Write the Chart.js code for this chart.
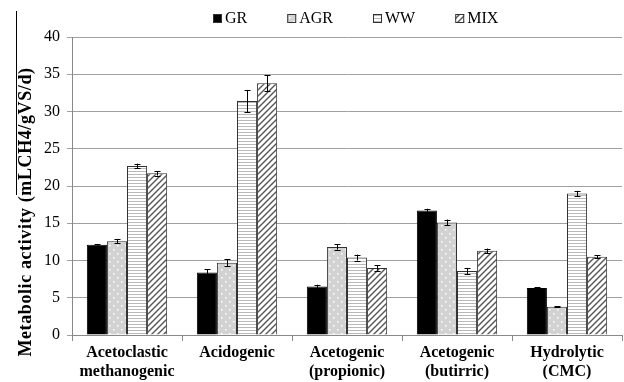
<!DOCTYPE html>
<html>
<head>
<meta charset="utf-8">
<script src="https://cdn.jsdelivr.net/npm/chart.js@4/dist/chart.umd.min.js"></script>
<style>
  body { margin: 0; background: #fff; }
  #wrap { position: relative; width: 624px; height: 382px; }
  #edge { position: absolute; left: 16px; top: 11px; width: 1px; height: 184px; background: #000; }
</style>
</head>
<body>
<div id="wrap">
  <canvas id="chart" width="624" height="382"></canvas>
  <div id="edge"></div>
</div>
<script>
// data
const categories = [
    ['Acetoclastic', 'methanogenic'],
    ['Acidogenic'],
    ['Acetogenic', '(propionic)'],
    ['Acetogenic', '(butirric)'],
    ['Hydrolytic', '(CMC)']
];
const seriesNames = ['GR', 'AGR', 'WW', 'MIX'];
const gr = [12.1, 8.4, 6.5, 16.7, 6.3];
const grErr = [0.1, 0.4, 0.25, 0.25, 0.1];
const agr = [12.6, 9.7, 11.8, 15.1, 3.8];
const agrErr = [0.3, 0.5, 0.35, 0.4, 0.05];
const ww = [22.7, 31.4, 10.4, 8.6, 19.0];
const wwErr = [0.3, 1.5, 0.4, 0.4, 0.35];
const mix = [21.7, 33.8, 9.0, 11.3, 10.5];
const mixErr = [0.3, 1.1, 0.35, 0.3, 0.2];
const yTicks = [0, 5, 10, 15, 20, 25, 30, 35, 40];
const yTitle = 'Metabolic activity (mLCH4/gVS/d)';

const serif = "'Liberation Serif', 'Times New Roman', serif";

function makePattern(size, draw) {
    const c = document.createElement('canvas');
    c.width = size; c.height = size;
    const g = c.getContext('2d');
    draw(g, size);
    return g.createPattern(c, 'repeat');
}

const dots = makePattern(8, (g, s) => {
    g.fillStyle = '#d2d2d2';
    g.fillRect(0, 0, s, s);
    g.fillStyle = '#ffffff';
    g.fillRect(1, 1, 1.5, 1.5);
    g.fillRect(5, 5, 1.5, 1.5);
});
const stripes = makePattern(3, (g, s) => {
    g.fillStyle = '#ffffff';
    g.fillRect(0, 0, s, s);
    g.fillStyle = '#b8b8b8';
    g.fillRect(0, 0, s, 1);
});
const hatch = makePattern(6, (g, s) => {
    g.fillStyle = '#ffffff';
    g.fillRect(0, 0, s, s);
    g.strokeStyle = '#555555';
    g.lineWidth = 1.4;
    g.beginPath();
    g.moveTo(-1, s + 1); g.lineTo(s + 1, -1);
    g.moveTo(-1, 1); g.lineTo(1, -1);
    g.moveTo(s - 1, s + 1); g.lineTo(s + 1, s - 1);
    g.stroke();
});

const errors = [grErr, agrErr, wwErr, mixErr];

// error bars, drawn through the y scale
const errorBars = {
    id: 'errorBars',
    afterDatasetsDraw(chart) {
        const ctx = chart.ctx;
        const y = chart.scales.y;
        ctx.save();
        ctx.strokeStyle = '#000';
        ctx.lineWidth = 1;
        chart.data.datasets.forEach((ds, di) => {
            const meta = chart.getDatasetMeta(di);
            meta.data.forEach((bar, i) => {
                const v = ds.data[i], e = errors[di][i];
                const top = y.getPixelForValue(v + e);
                const bot = y.getPixelForValue(v - e);
                const x = Math.round(bar.x) + 0.5;
                ctx.beginPath();
                ctx.moveTo(x, top); ctx.lineTo(x, bot);
                ctx.moveTo(x - 3, Math.round(top) + 0.5); ctx.lineTo(x + 3, Math.round(top) + 0.5);
                ctx.moveTo(x - 3, Math.round(bot) + 0.5); ctx.lineTo(x + 3, Math.round(bot) + 0.5);
                ctx.stroke();
            });
        });
        ctx.restore();
    }
};

// legend row and rotated axis title
const decorations = {
    id: 'decorations',
    afterDraw(chart) {
        const ctx = chart.ctx;
        ctx.save();
        ctx.font = '16px ' + serif;
        ctx.textBaseline = 'middle';
        let x = 213;
        chart.data.datasets.forEach(ds => {
            ctx.fillStyle = ds.backgroundColor;
            ctx.fillRect(x, 14, 9, 9);
            ctx.strokeStyle = '#333';
            ctx.lineWidth = 1;
            ctx.strokeRect(x + 0.5, 14.5, 8, 8);
            ctx.fillStyle = '#000';
            ctx.fillText(ds.label, x + 12, 19);
            x += 12 + ctx.measureText(ds.label).width + 40;
        });
        ctx.font = 'bold 18px ' + serif;
        ctx.letterSpacing = '0.6px';
        ctx.translate(26, 212);
        ctx.rotate(-Math.PI / 2);
        ctx.textAlign = 'center';
        ctx.fillText(yTitle, 0, 0);
        ctx.restore();
    }
};

new Chart(document.getElementById('chart').getContext('2d'), {
    type: 'bar',
    data: {
        labels: categories,
        datasets: [
            { label: seriesNames[0], data: gr, backgroundColor: '#000000', borderColor: '#000', borderWidth: 1 },
            { label: seriesNames[1], data: agr, backgroundColor: dots, borderColor: '#333', borderWidth: 1 },
            { label: seriesNames[2], data: ww, backgroundColor: stripes, borderColor: '#333', borderWidth: 1 },
            { label: seriesNames[3], data: mix, backgroundColor: hatch, borderColor: '#333', borderWidth: 1 }
        ]
    },
    options: {
        responsive: false,
        animation: false,
        devicePixelRatio: 1,
        layout: { padding: { top: 37, right: 2, left: 0, bottom: 0 } },
        datasets: { bar: { categoryPercentage: 0.73, barPercentage: 1.0 } },
        plugins: { legend: { display: false }, tooltip: { enabled: false } },
        scales: {
            x: {
                grid: { display: true, drawOnChartArea: false, drawTicks: true, tickLength: 6, color: '#888', offset: true },
                border: { color: '#888', width: 1 },
                ticks: { color: '#000', padding: 3, font: { family: serif, size: 16, weight: 'bold', lineHeight: 1.15 }, maxRotation: 0, autoSkip: false },
                afterFit(scale) { scale.height = 47; }
            },
            y: {
                min: 0,
                max: 40,
                afterBuildTicks(scale) { scale.ticks = yTicks.map(v => ({ value: v })); },
                grid: { color: '#a0a0a0', lineWidth: 1, tickLength: 5 },
                border: { color: '#888', width: 1 },
                ticks: { color: '#000', padding: 7, font: { family: serif, size: 16 } },
                afterFit(scale) { scale.width = 72; }
            }
        }
    },
    plugins: [errorBars, decorations]
});
</script>
</body>
</html>
